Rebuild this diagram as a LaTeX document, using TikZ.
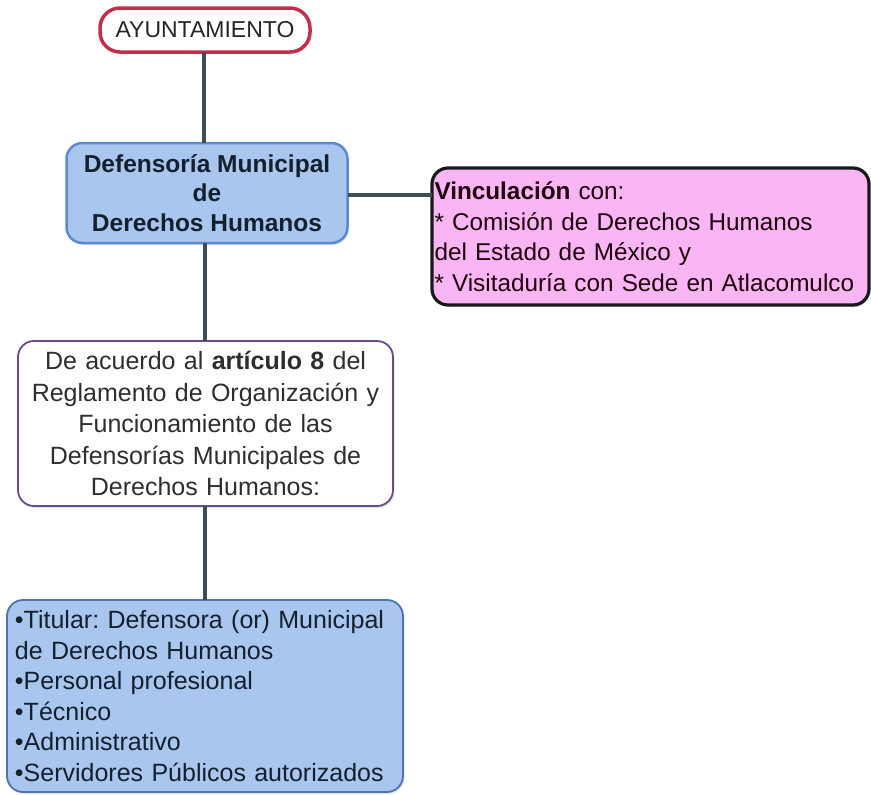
\documentclass[tikz,border=0pt]{standalone}
\usepackage{fontspec}
\setmainfont{Liberation Sans}
\frenchspacing
\hyphenpenalty=10000
\usetikzlibrary{shadows}
\definecolor{conn}{HTML}{3D4F55}
\definecolor{ayred}{HTML}{C0304A}
\definecolor{blfill}{HTML}{A9C6EE}
\definecolor{bldraw}{HTML}{5C89D2}
\definecolor{pkfill}{HTML}{F9B5F4}
\definecolor{purp}{HTML}{6D4A8C}
\definecolor{navytxt}{HTML}{14202E}
\begin{document}
\begin{tikzpicture}[x=1pt,y=-1pt,
  boxbase/.style={rounded corners=16pt, inner sep=0pt, outer sep=0pt,
    drop shadow={shadow xshift=1.5pt, shadow yshift=-2pt, opacity=0.22}},
  ayubox/.style={boxbase, draw=ayred, line width=3.5pt, fill=white, rounded corners=20pt,
    minimum width=210pt, minimum height=44pt, font=\fontsize{23}{27}\selectfont, text=black!85},
  defbox/.style={boxbase, draw=bldraw, line width=2.5pt, fill=blfill,
    minimum width=281pt, minimum height=100pt, align=center,
    font=\fontsize{24.5}{29.5}\selectfont\bfseries, text=navytxt},
  vinbox/.style={boxbase, draw=black!90, line width=3.2pt, fill=pkfill,
    minimum width=437pt, minimum height=137pt, align=left, text width=432pt, inner xsep=2.5pt,
    font=\fontsize{24.3}{30.5}\selectfont, text=black!85!purple},
  artbox/.style={boxbase, draw=purp, line width=1.8pt, fill=white,
    minimum width=375pt, minimum height=165pt, align=center, text width=365pt, inner xsep=5pt,
    font=\fontsize{25}{31.5}\selectfont, text=black!82},
  lstbox/.style={boxbase, draw=bldraw!85!black, line width=1.8pt, fill=blfill,
    minimum width=396pt, minimum height=192pt, align=left, text width=380pt, inner xsep=8pt,
    font=\fontsize{25}{30.5}\selectfont, text=navytxt},
  link/.style={draw=conn, line width=3.2pt}
]
\useasboundingbox (0,0) rectangle (871,795);
\fill[white] (0,0) rectangle (871,795);

\node[ayubox] (ayu) at (205,30) {AYUNTAMIENTO};
\node[defbox] (def) at (207,193) {Defensoría Municipal\\de\\Derechos Humanos};
\node[vinbox] (vin) at (650.5,236.5) {\textbf{Vinculación} con:\\{*} Comisión de Derechos Humanos\\del Estado de México y\\{*} Visitaduría con Sede en Atlacomulco};
\node[artbox] (art) at (205.5,423.5) {De acuerdo al \textbf{artículo 8} del\\Reglamento de Organización y\\Funcionamiento de las\\Defensorías Municipales de\\Derechos Humanos:};
\node[lstbox] (lst) at (205,696) {•Titular: Defensora (or) Municipal\\de Derechos Humanos\\•Personal profesional\\•Técnico\\•Administrativo\\•Servidores Públicos autorizados};

\draw[link] (ayu.south -| 204,0) -- (def.north -| 204,0);
\draw[link] (def.east |- 0,195) -- (vin.west |- 0,195);
\draw[link] (def.south -| 205,0) -- (art.north -| 205,0);
\draw[link] (art.south -| 205,0) -- (lst.north -| 205,0);
\end{tikzpicture}
\end{document}
